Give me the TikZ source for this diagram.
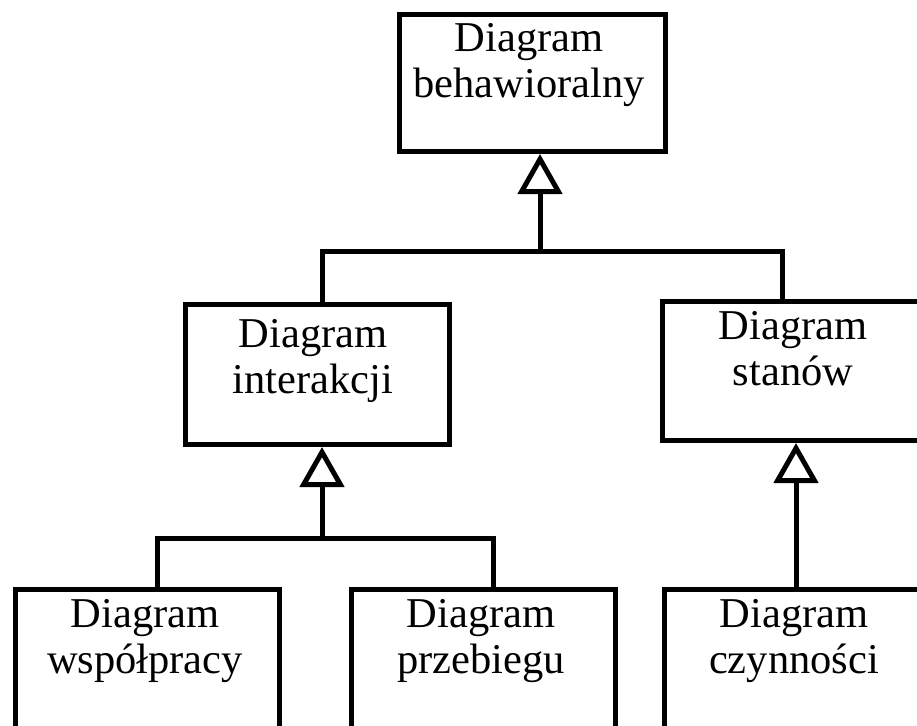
\documentclass[tikz,border=0pt]{standalone}
\usepackage{fontspec}
\setmainfont{Liberation Serif}
\usetikzlibrary{arrows.meta}
\begin{document}
\begin{tikzpicture}[x=1pt,y=-1pt,
  box/.style={draw=black,line width=5pt,minimum width=264pt,minimum height=140pt,anchor=north west,inner sep=0pt},
  lbl/.style={align=center,anchor=north,inner sep=0pt,font=\fontsize{42.5}{46.5}\selectfont},
  conn/.style={draw=black,line width=5pt},
  gen/.style={conn,-{Triangle[open,length=40pt,width=44pt,line width=5pt]}}]
\useasboundingbox (0,0) rectangle (917,725);
\clip (0,0) rectangle (917,725);
% boxes
\node[box,minimum width=266pt,minimum height=137pt] (top) at (397,12) {};
\node[box] (ml) at (183,302) {};
\node[box,minimum height=139pt] (mr) at (660,299) {};
\node[box] (b1) at (13,587) {};
\node[box] (b2) at (349,587) {};
\node[box] (b3) at (662,587) {};
% labels
\node[lbl] (ttop) at (529,23) {Diagram\\behawioralny};
\node[lbl] (tml) at (313,319) {Diagram\\interakcji};
\node[lbl] (tmr) at (793,311) {Diagram\\stanów};
\node[lbl] (tb1) at (145,599) {Diagram\\współpracy};
\node[lbl] (tb2) at (481,599) {Diagram\\przebiegu};
\node[lbl] (tb3) at (794,599) {Diagram\\czynności};
% junctions
\coordinate (j1) at (540,251);
\coordinate (j1l) at (322,251);
\coordinate (j1r) at (782,251);
\coordinate (j2) at (322,538);
\coordinate (j2l) at (157,538);
\coordinate (j2r) at (493,538);
\coordinate (j3) at (796,500);
% connectors
\draw[gen] (j1) -- (top.south -| j1);
\draw[conn] (ml.north -| j1l) -- (j1l) -- (j1r) -- (mr.north -| j1r);
\draw[gen] (j2) -- (ml.south -| j2);
\draw[conn] (b1.north -| j2l) -- (j2l) -- (j2r) -- (b2.north -| j2r);
\draw[gen] (b3.north -| j3) -- (mr.south -| j3);
\end{tikzpicture}
\end{document}
